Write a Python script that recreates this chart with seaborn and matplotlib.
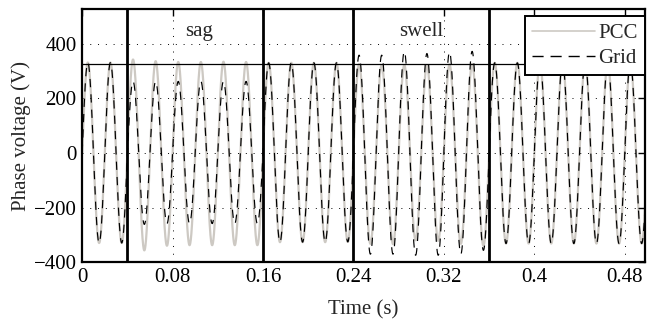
import numpy as np
import pandas as pd
import matplotlib
matplotlib.use("Agg")
import matplotlib.pyplot as plt
import seaborn as sns
from matplotlib.lines import Line2D

# ---- data (peak value of each 10 ms half-cycle, 50 Hz) ----
half_cycle = 0.01
pcc_peaks = [331, -330, 331, -330,
             342, -357, 336, -340, 333, -338, 333, -338, 334, -338, 333, -338,
             330, -327, 330, -327, 330, -327, 330, -326,
             325, -333, 322, -334, 322, -320, 322, -322, 324, -333, 326, -340,
             330, -332, 330, -332, 330, -332, 330, -332, 330, -332, 330, -332, 330, -332]
grid_peaks = [331, -330, 331, -330,
              262, -262, 262, -259, 262, -259, 262, -259, 262, -259, 262, -259,
              330, -327, 330, -327, 330, -327, 330, -326,
              358, -371, 358, -371, 372, -375, 364, -375, 370, -371, 372, -357,
              330, -332, 330, -332, 330, -332, 330, -332, 330, -332, 330, -332, 330, -332]
event_times = [0.04, 0.16, 0.24, 0.36]
nominal_peak = 325
event_labels = ["sag", "swell"]
event_label_x = [0.103, 0.30]
x_ticks = [0, 0.08, 0.16, 0.24, 0.32, 0.4, 0.48]
x_ticklabels = ["0", "0.08", "0.16", "0.24", "0.32", "0.4", "0.48"]
y_ticks = [-400, -200, 0, 200, 400]

# build the waveforms from the half-cycle peaks
t = np.linspace(0, 0.5, 5001)
idx = np.minimum((t / half_cycle).astype(int), len(pcc_peaks) - 1)
shape = np.abs(np.sin(2 * np.pi * 50 * t))
pcc = np.array(pcc_peaks)[idx] * shape
grid = np.array(grid_peaks)[idx] * shape
df = pd.DataFrame({"t": t, "PCC": pcc, "Grid": grid})

sns.set_style("white")
plt.rcParams["font.family"] = ["Liberation Serif", "DejaVu Serif"]
plt.rcParams["font.size"] = 15
plt.rcParams["axes.unicode_minus"] = True

FS = 15
fig = plt.figure(figsize=(6.47, 3.22), dpi=100)
ax = fig.add_axes([0.127, 0.186, 0.870, 0.786])

pcc_color = "#cdc9c3"
dash = (0, (7, 6))
sns.lineplot(data=df, x="t", y="PCC", ax=ax, color=pcc_color, lw=1.6, zorder=1.5)
sns.lineplot(data=df, x="t", y="Grid", ax=ax, color="black", lw=0.85, zorder=1.6,
             dashes=False, linestyle=dash)

for xe in event_times:
    ax.axvline(xe, color="black", lw=2.0, zorder=3)
ax.axhline(nominal_peak, color="black", lw=0.9, zorder=3)

for lab, xl in zip(event_labels, event_label_x):
    ax.text(xl, 445, lab, ha="center", va="center", fontsize=FS, zorder=4)

ax.set_xlim(0, 0.498)
ax.set_ylim(-400, 527)
ax.set_xticks(x_ticks)
ax.set_xticklabels(x_ticklabels)
ax.set_yticks(y_ticks)
ax.set_xlabel("Time (s)", fontsize=FS, labelpad=10)
ax.set_ylabel("Phase voltage (V)", fontsize=FS, labelpad=2)

ax.set_axisbelow(False)
ax.grid(True, color="black", linestyle=(0, (1, 7)), lw=0.7, zorder=2.5)
ax.tick_params(direction="in", length=5, width=1.0, top=True, right=True,
               labelsize=FS, colors="black", pad=4)
for s in ax.spines.values():
    s.set_visible(True)
    s.set_color("black")
    s.set_linewidth(1.6)
    s.set_zorder(5)

handles = [Line2D([], [], color=pcc_color, lw=1.2),
           Line2D([], [], color="black", lw=1.0, linestyle=(0, (8, 5)))]
leg = ax.legend(handles, ["PCC", "Grid"], loc="upper right",
                bbox_to_anchor=(1.003, 0.98), frameon=True, fancybox=False,
                edgecolor="black", framealpha=1, fontsize=FS,
                handlelength=3.0, handletextpad=0.15, borderpad=0.35,
                labelspacing=0.25, borderaxespad=0.1)
leg.get_frame().set_linewidth(1.4)
leg.set_zorder(6)

fig.savefig("out.png", dpi=100)
